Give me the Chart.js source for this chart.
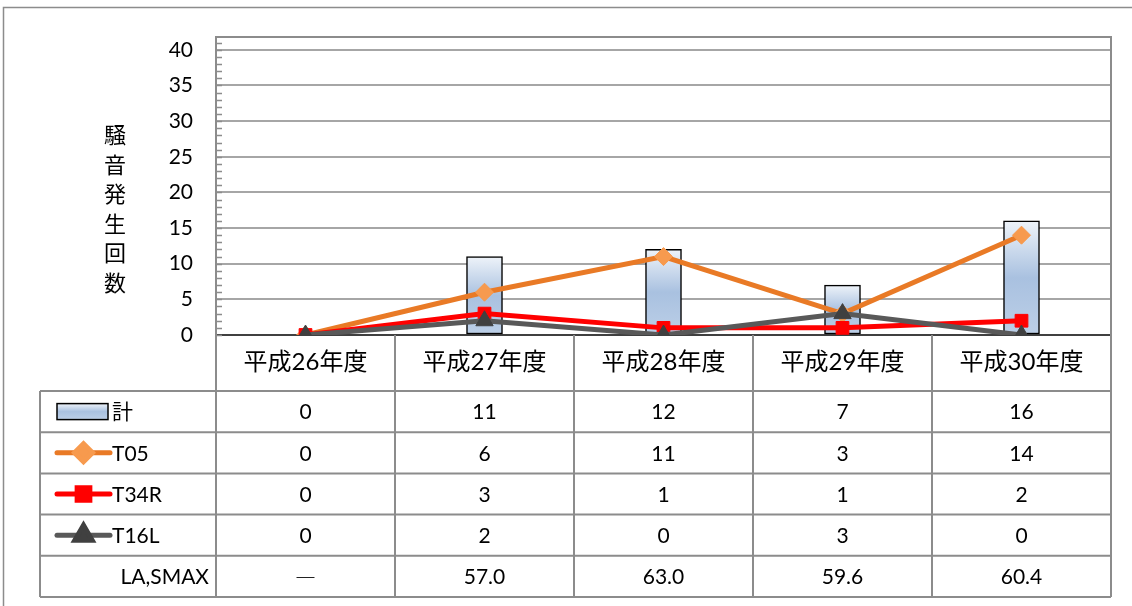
<!DOCTYPE html>
<html lang="ja">
<head>
<meta charset="utf-8">
<title>騒音発生回数</title>
<script src="https://cdn.jsdelivr.net/npm/chart.js@4/dist/chart.umd.min.js"></script>
<style>
  html, body { margin: 0; padding: 0; background: #fff; }
  #chart { display: block; }
</style>
</head>
<body>
<canvas id="chart" width="1132" height="606"></canvas>
<script>
const categories = ["平成26年度", "平成27年度", "平成28年度", "平成29年度", "平成30年度"];
const totalCounts = [0, 11, 12, 7, 16];
const t05 = [0, 6, 11, 3, 14];
const t34r = [0, 3, 1, 1, 2];
const t16l = [0, 2, 0, 3, 0];
const laSmax = ["―", "57.0", "63.0", "59.6", "60.4"];
const yTicks = [0, 5, 10, 15, 20, 25, 30, 35, 40];
const yTitle = "騒音発生回数";
const rowLabels = ["計", "T05", "T34R", "T16L", "LA,SMAX"];

const FONT = "Lato, 'Noto Sans CJK JP', sans-serif";
const CJK = "'Noto Sans CJK JP', sans-serif";
const GRID = "#a6a6a6";
const FRAME = "#8c8c8c";

function barFill(c) {
    const chart = c.chart;
    const y = chart.scales.y;
    if (!chart.chartArea || !y || c.raw == null) return "#b9cde5";
    const top = y.getPixelForValue(c.raw);
    const base = y.getPixelForValue(0);
    if (base - top < 1) return "#b9cde5";
    return makeGradient(chart.ctx, top, base);
}

function makeGradient(ctx, top, base) {
    const g = ctx.createLinearGradient(0, top, 0, base);
    g.addColorStop(0, "#eef3f9");
    g.addColorStop(0.5, "#a9c1e0");
    g.addColorStop(1, "#bccfe7");
    return g;
}

const tablePlugin = {
    id: "dataTable",
    beforeDraw(chart) {
        const ctx = chart.ctx;
        ctx.save();
        ctx.strokeStyle = FRAME;
        ctx.lineWidth = 1.5;
        ctx.beginPath();
        ctx.moveTo(3.5, 620);
        ctx.lineTo(3.5, 7.5);
        ctx.lineTo(1140, 7.5);
        ctx.stroke();
        ctx.restore();
    },
    afterDraw(chart) {
        const ctx = chart.ctx;
        const area = chart.chartArea;
        const y = chart.scales.y;
        const colW = (area.right - area.left) / categories.length;
        const tableTop = area.bottom + 56;
        const rowH = 41.2;
        const tableBottom = tableTop + rowH * rowLabels.length;
        const tableLeft = 40;

        ctx.save();
        // plot frame top / right
        ctx.strokeStyle = FRAME;
        ctx.lineWidth = 2;
        ctx.beginPath();
        ctx.moveTo(area.left, area.top);
        ctx.lineTo(area.right, area.top);
        ctx.lineTo(area.right, tableBottom);
        ctx.stroke();

        // minor ticks on the value axis
        ctx.lineWidth = 1.5;
        ctx.beginPath();
        for (let v = 0; v <= 41; v++) {
            const py = Math.round(y.getPixelForValue(v)) + 0.5;
            ctx.moveTo(area.left, py);
            ctx.lineTo(area.left + 6, py);
        }
        ctx.stroke();

        // table grid
        ctx.lineWidth = 2;
        ctx.beginPath();
        for (let i = 0; i <= categories.length; i++) {
            const x = area.left + i * colW;
            ctx.moveTo(x, i === 0 ? area.top : area.bottom);
            ctx.lineTo(x, tableBottom);
        }
        ctx.moveTo(tableLeft, tableTop);
        ctx.lineTo(tableLeft, tableBottom);
        for (let r = 0; r <= rowLabels.length; r++) {
            const yy = tableTop + r * rowH;
            ctx.moveTo(tableLeft, yy);
            ctx.lineTo(area.right, yy);
        }
        ctx.stroke();

        // cell values
        const rows = [totalCounts, t05, t34r, t16l, laSmax];
        ctx.fillStyle = "#000";
        ctx.textAlign = "center";
        ctx.textBaseline = "middle";
        rows.forEach((vals, r) => {
            const cy = tableTop + r * rowH + rowH / 2;
            vals.forEach((v, i) => {
                ctx.font = "21px " + (typeof v === "string" && isNaN(v) ? CJK : FONT);
                ctx.fillText(String(v), area.left + i * colW + colW / 2, cy + 1);
            });
        });

        // row labels with legend keys
        const keyL = 57, keyR = 110;
        rowLabels.forEach((label, r) => {
            const cy = tableTop + r * rowH + rowH / 2;
            ctx.fillStyle = "#000";
            ctx.font = "21px " + FONT;
            ctx.textBaseline = "middle";
            if (r === rowLabels.length - 1) {
                ctx.textAlign = "right";
                ctx.fillText(label, 209, cy + 1);
                return;
            }
            ctx.textAlign = "left";
            ctx.fillText(label, 112, cy + 1);
            const ds = chart.data.datasets[r];
            if (r === 0) {
                ctx.fillStyle = makeGradient(ctx, cy - 8, cy + 8);
                ctx.fillRect(keyL, cy - 8, keyR - keyL - 2, 16);
                ctx.strokeStyle = "#000";
                ctx.lineWidth = 1.5;
                ctx.strokeRect(keyL, cy - 8, keyR - keyL - 2, 16);
            } else {
                ctx.strokeStyle = ds.borderColor;
                ctx.lineWidth = ds.borderWidth;
                ctx.lineCap = "round";
                ctx.beginPath();
                ctx.moveTo(keyL, cy);
                ctx.lineTo(keyR, cy);
                ctx.stroke();
                ctx.fillStyle = ds.pointBackgroundColor;
                ctx.strokeStyle = ds.pointBorderColor;
                Chart.helpers.drawPoint(ctx, {
                    pointStyle: ds.pointStyle,
                    radius: ds.pointRadius,
                    rotation: 0,
                    borderWidth: 1
                }, (keyL + keyR) / 2, cy);
            }
        });

        // vertical axis title
        ctx.fillStyle = "#000";
        ctx.font = "22px " + FONT;
        ctx.textAlign = "center";
        ctx.textBaseline = "middle";
        [...yTitle].forEach((ch, i) => {
            ctx.fillText(ch, 115, 136 + i * 29.6);
        });
        ctx.restore();
    }
};

new Chart(document.getElementById("chart"), {
    data: {
        labels: categories,
        datasets: [
            {
                type: "bar",
                label: "計",
                data: totalCounts,
                backgroundColor: barFill,
                borderColor: "#000",
                borderWidth: 1.5,
                borderSkipped: false,
                barThickness: 36,
                order: 4
            },
            {
                type: "line",
                label: "T05",
                data: t05,
                borderColor: "#e97a26",
                borderWidth: 5,
                pointStyle: "rectRot",
                pointRadius: 9,
                pointBackgroundColor: "#f79a4e",
                pointBorderColor: "#f79a4e",
                pointBorderWidth: 1,
                order: 3
            },
            {
                type: "line",
                label: "T34R",
                data: t34r,
                borderColor: "#ff0000",
                borderWidth: 5,
                pointStyle: "rect",
                pointRadius: 9,
                pointBackgroundColor: "#ff0000",
                pointBorderColor: "#ff0000",
                pointBorderWidth: 1,
                order: 2
            },
            {
                type: "line",
                label: "T16L",
                data: t16l,
                borderColor: "#595959",
                borderWidth: 5,
                pointStyle: "triangle",
                pointRadius: 10,
                pointBackgroundColor: "#404040",
                pointBorderColor: "#404040",
                pointBorderWidth: 1,
                order: 1
            }
        ]
    },
    options: {
        responsive: false,
        animation: false,
        layout: { padding: { top: 37, right: 21, bottom: 215, left: 0 } },
        plugins: {
            legend: { display: false },
            tooltip: { enabled: false }
        },
        scales: {
            x: {
                grid: { display: false, drawTicks: false },
                border: { display: true, color: "#404040", width: 2 },
                ticks: { color: "#000", font: { size: 24, family: FONT }, padding: 13, maxRotation: 0 },
                afterFit(scale) { scale.height = 56; }
            },
            y: {
                min: 0,
                max: 41.8,
                afterBuildTicks(scale) { scale.ticks = yTicks.map(v => ({ value: v })); },
                grid: {
                    drawTicks: false,
                    lineWidth: 2,
                    color: c => (c.tick && c.tick.value === 0 ? "#404040" : GRID)
                },
                border: { display: true, color: FRAME, width: 2 },
                ticks: { color: "#000", font: { size: 21, family: FONT }, padding: 23 },
                afterFit(scale) { scale.width = 216; }
            }
        }
    },
    plugins: [tablePlugin]
});
</script>
</body>
</html>
